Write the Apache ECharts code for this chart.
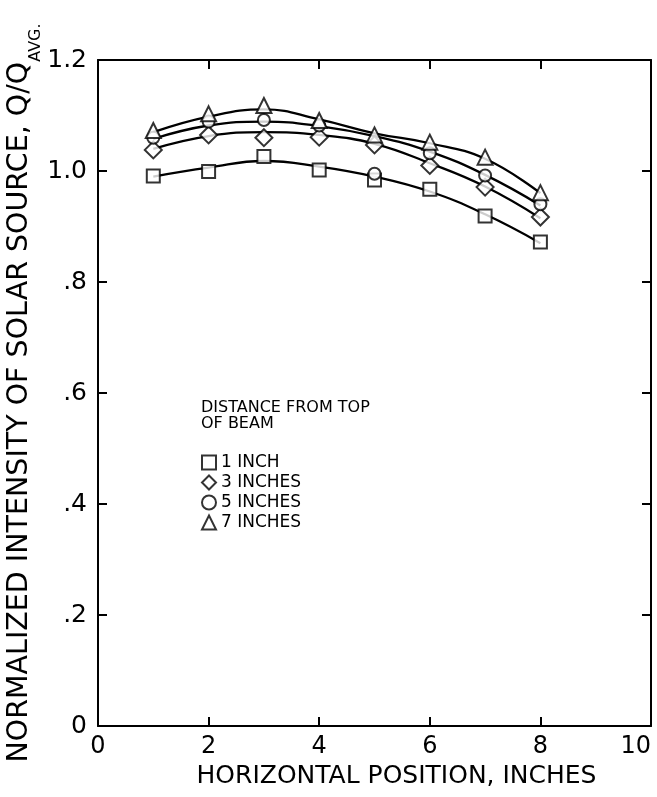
<!DOCTYPE html>
<html>
<head>
<meta charset="utf-8">
<script src="https://cdn.jsdelivr.net/npm/echarts@6/dist/echarts.min.js"></script>
<style>html,body{margin:0;padding:0;background:#fff}#c{width:657px;height:797px}</style>
</head>
<body>
<div id="c"></div>
<script>
// Data
var positions = [1, 2, 3, 4, 5, 6, 7, 8];
var seriesNames = ['1 INCH', '3 INCHES', '5 INCHES', '7 INCHES'];
// measured points
var pts1in = [0.991, 0.999, 1.026, 1.002, 0.984, 0.967, 0.919, 0.872];
var pts3in = [1.038, 1.065, 1.060, 1.061, 1.047, 1.010, 0.971, 0.917];
var pts5in = [1.060, 1.089, 1.092, 1.082, 0.995, 1.032, 0.992, 0.940];
var pts7in = [1.073, 1.103, 1.118, 1.091, 1.065, 1.052, 1.025, 0.961];
// faired curves read at the same positions
var fit1in = [0.990, 1.006, 1.018, 1.008, 0.990, 0.963, 0.922, 0.870];
var fit3in = [1.040, 1.063, 1.070, 1.065, 1.049, 1.014, 0.972, 0.915];
var fit5in = [1.058, 1.082, 1.089, 1.081, 1.063, 1.035, 0.993, 0.938];
var fit7in = [1.070, 1.098, 1.111, 1.093, 1.068, 1.050, 1.022, 0.960];
var xTicks = ['0', '2', '4', '6', '8', '10'];
var yTicks = ['0', '.2', '.4', '.6', '.8', '1.0', '1.2'];

function pairs(v) { return positions.map(function (x, i) { return [x, v[i]]; }); }

var FONT = 'DejaVu Sans';
var symbols = ['rect', 'diamond', 'circle', 'triangle'];
var sizes = [13, 17, 12, 15];
var ptsAll = [pts1in, pts3in, pts5in, pts7in];
var fitAll = [fit1in, fit3in, fit5in, fit7in];

var series = [];
fitAll.forEach(function (f, i) {
  series.push({
    type: 'line', name: 'fit' + i, data: pairs(f), smooth: 0.45, showSymbol: false,
    lineStyle: { color: '#000', width: 2.3 }, z: 2, silent: true
  });
});
ptsAll.forEach(function (p, i) {
  series.push({
    type: 'scatter', name: seriesNames[i], data: pairs(p), symbol: symbols[i], symbolSize: sizes[i],
    itemStyle: { color: '#fff', borderColor: '#000', borderWidth: 2 }, z: 5
  });
});

var axisLine = { show: true, onZero: false, lineStyle: { color: '#000', width: 2 } };
var tick = { show: true, inside: true, length: 9, lineStyle: { color: '#000', width: 2 } };

var chart = echarts.init(document.getElementById('c'));
chart.setOption({
  backgroundColor: '#fff',
  animation: false,
  grid: { left: 98, right: 6, top: 60, bottom: 71, containLabel: false, outerBoundsMode: 'none' },
  xAxis: [{
    type: 'value', min: 0, max: 10, interval: 2, position: 'bottom',
    axisLine: axisLine, axisTick: tick, splitLine: { show: false },
    axisLabel: { color: '#000', fontFamily: FONT, fontSize: 24, margin: 9, alignMaxLabel: 'right',
      formatter: function (v) { return xTicks[v / 2]; } },
    name: 'HORIZONTAL POSITION, INCHES', nameLocation: 'middle', nameGap: 38, nameMoveOverlap: false,
    nameTextStyle: { color: '#000', fontFamily: FONT, fontSize: 25, padding: [0, 0, 0, 44] }
  }, {
    type: 'value', min: 0, max: 10, interval: 2, position: 'top',
    axisLine: axisLine, axisTick: tick, axisLabel: { show: false }, splitLine: { show: false }
  }],
  yAxis: [{
    type: 'value', min: 0, max: 1.2, interval: 0.2, position: 'left',
    axisLine: axisLine, axisTick: tick, splitLine: { show: false },
    axisLabel: { color: '#000', fontFamily: FONT, fontSize: 25, margin: 11,
      formatter: function (v) { return yTicks[Math.round(v / 0.2)]; } },
    name: 'NORMALIZED INTENSITY OF SOLAR SOURCE, Q/Q{sub|AVG.}', nameLocation: 'middle', nameRotate: 90, nameGap: 64,
    nameMoveOverlap: false,
    nameTextStyle: { color: '#000', fontFamily: FONT, fontSize: 28.5,
      rich: { sub: { fontFamily: FONT, fontSize: 16, color: '#000', verticalAlign: 'bottom', padding: [0, 0, -10, 0] } } }
  }, {
    type: 'value', min: 0, max: 1.2, interval: 0.2, position: 'right',
    axisLine: axisLine, axisTick: tick, axisLabel: { show: false }, splitLine: { show: false }
  }],
  legend: {
    data: seriesNames, orient: 'vertical', left: 196, top: 449, itemWidth: 14, itemHeight: 14, itemGap: 3,
    textStyle: { color: '#000', fontFamily: FONT, fontSize: 17, lineHeight: 16 }, selectedMode: false
  },
  graphic: [{
    type: 'text', left: 201, top: 400,
    style: { text: 'DISTANCE FROM TOP\nOF BEAM', fill: '#000', font: '16px "DejaVu Sans"', lineHeight: 16 }
  }],
  series: series
});
</script>
</body>
</html>
